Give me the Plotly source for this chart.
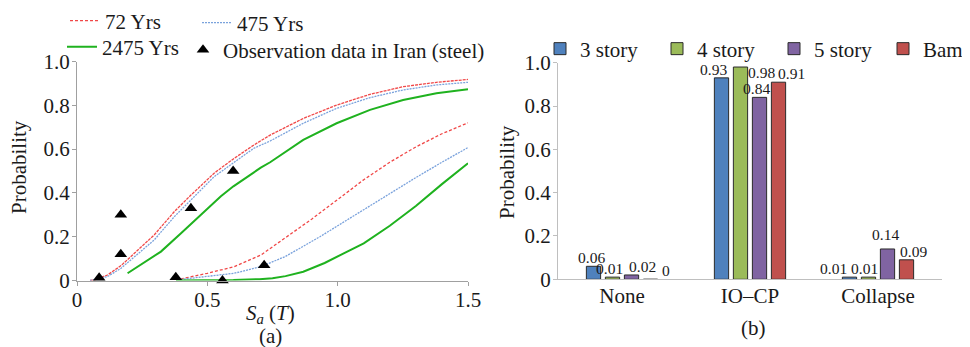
import plotly.graph_objects as go

# ---------------- data: panel (a) fragility curves ----------------
up72_x = [0.05, 0.066, 0.117, 0.169, 0.22, 0.296, 0.373, 0.437, 0.526, 0.603, 0.679, 0.741, 0.868, 0.996, 1.124, 1.251, 1.379, 1.5]
up72_y = [0.0, 0.002, 0.025, 0.068, 0.124, 0.208, 0.314, 0.39, 0.49, 0.558, 0.619, 0.664, 0.74, 0.801, 0.85, 0.885, 0.905, 0.918]

up475_x = [0.05, 0.117, 0.169, 0.22, 0.296, 0.373, 0.437, 0.526, 0.603, 0.679, 0.741, 0.868, 0.996, 1.124, 1.251, 1.379, 1.5]
up475_y = [0.0, 0.018, 0.056, 0.109, 0.185, 0.291, 0.368, 0.474, 0.54, 0.604, 0.637, 0.718, 0.786, 0.835, 0.87, 0.893, 0.905]

up2475_x = [0.194, 0.245, 0.322, 0.398, 0.475, 0.552, 0.6, 0.705, 0.741, 0.868, 0.996, 1.124, 1.251, 1.379, 1.5]
up2475_y = [0.033, 0.071, 0.132, 0.215, 0.299, 0.385, 0.43, 0.515, 0.54, 0.642, 0.718, 0.779, 0.824, 0.855, 0.873]

lo72_x = [0.398, 0.5, 0.603, 0.705, 0.805, 0.9, 1.0, 1.1, 1.2, 1.3, 1.4, 1.5]
lo72_y = [0.007, 0.033, 0.063, 0.116, 0.2, 0.28, 0.37, 0.46, 0.54, 0.61, 0.67, 0.72]

lo475_x = [0.398, 0.5, 0.603, 0.705, 0.8, 0.932, 1.0, 1.1, 1.2, 1.3, 1.4, 1.5]
lo475_y = [0.005, 0.018, 0.033, 0.063, 0.11, 0.2, 0.25, 0.325, 0.4, 0.47, 0.54, 0.607]

lo2475_x = [0.38, 0.5, 0.6, 0.7, 0.75, 0.8, 0.868, 0.95, 1.0, 1.1, 1.2, 1.3, 1.4, 1.5]
lo2475_y = [0.0, 0.0, 0.002, 0.006, 0.01, 0.02, 0.04, 0.08, 0.11, 0.17, 0.25, 0.34, 0.44, 0.535]

obs_x = [0.085, 0.168, 0.168, 0.379, 0.437, 0.558, 0.599, 0.718]
obs_y = [0.013, 0.30, 0.12, 0.015, 0.33, 0.0, 0.50, 0.07]

# ---------------- data: panel (b) bars ----------------
categories = ["None", "IO–CP", "Collapse"]
story3 = [0.06, 0.93, 0.01]
story4 = [0.01, 0.98, 0.01]
story5 = [0.02, 0.84, 0.14]
bam = [0, 0.91, 0.09]

y_ticks = [0, 0.2, 0.4, 0.6, 0.8, 1.0]
y_ticktext = ["0", "0.2", "0.4", "0.6", "0.8", "1.0"]
grid_vals = [0.2, 0.4, 0.6, 0.8]
x_ticks = [0, 0.5, 1.0, 1.5]
x_ticktext = ["0", "0.5", "1.0", "1.5"]

# ---------------- styles ----------------
FONT = "Liberation Serif"
TXT = "#1a1a1a"
RED = "#f04848"
BLUE = "#7aa2dc"
GREEN = "#1fb21f"
BAR_COLORS = ["#4f81bd", "#9bbb59", "#8064a2", "#c0504d"]
# label nudges (px) that mimic the spreadsheet's label placement
label_dx = [[-2, -8.5, -16.5], [-3, 21, -4.5], [10.5, -3.5, -2.5], [15, 13, 6.5]]
label_dy = [[0, 0, 0], [0, -14, 0], [0, 0, 6], [0, 0, 0]]

W, H = 962, 339          # page body has an 8 px margin
def fx(px): return (px - 8) / W
def fy(py): return 1 - (py - 8) / H

fig = go.Figure()

def curve(x, y, name, color, dash, width, legend, show):
    fig.add_trace(go.Scatter(x=x, y=y, mode="lines", name=name,
                             line=dict(color=color, dash=dash, width=width),
                             legend=legend, showlegend=show, legendgroup=name,
                             xaxis="x", yaxis="y", cliponaxis=False))

curve(lo72_x, lo72_y, "72 Yrs", RED, "3px,2px", 1.3, "legend", True)
curve(lo475_x, lo475_y, "475 Yrs", BLUE, "2px,1px", 1.3, "legend2", True)
curve(up72_x, up72_y, "72 Yrs", RED, "3px,1px", 1.3, "legend", False)
curve(up475_x, up475_y, "475 Yrs", BLUE, "2px,1px", 1.3, "legend2", False)
curve(up2475_x, up2475_y, "2475 Yrs", GREEN, "solid", 2.0, "legend3", True)
curve(lo2475_x, lo2475_y, "2475 Yrs", GREEN, "solid", 2.0, "legend3", False)

fig.add_trace(go.Scatter(x=obs_x, y=obs_y, mode="markers",
                         name="Observation data in Iran (steel)",
                         marker=dict(symbol="triangle-up", size=11, color="black"),
                         legend="legend4", xaxis="x", yaxis="y", cliponaxis=False))

bar_names = ["3 story", "4 story", "5 story", "Bam"]
bar_values = [story3, story4, story5, bam]
annotations = []
for i, (name, vals) in enumerate(zip(bar_names, bar_values)):
    fig.add_trace(go.Bar(x=categories, y=vals, name=name,
                         marker=dict(color=BAR_COLORS[i], line=dict(color="#2b2b2b", width=1)),
                         legend=f"legend{5 + i}", xaxis="x2", yaxis="y2"))
    for j, (cat, v) in enumerate(zip(categories, vals)):
        annotations.append(dict(
            x=cat, y=v, xref="x2", yref="y2", text=f"{v:g}", showarrow=False,
            xanchor="center", yanchor="bottom",
            xshift=(i - 1.5) * 19 + label_dx[i][j], yshift=-2 + label_dy[i][j],
            font=dict(family=FONT, size=15.5, color=TXT)))

tickfont = dict(family=FONT, size=21, color=TXT)
titlefont = dict(family=FONT, size=21, color=TXT)

annotations += [
    dict(text="<i>S</i><sub><i>a</i></sub> (<i>T</i>)", x=fx(270), y=fy(314), xref="paper", yref="paper",
         xanchor="center", yanchor="middle", showarrow=False, font=titlefont),
    dict(text="(a)", x=fx(270), y=fy(336), xref="paper", yref="paper",
         xanchor="center", yanchor="middle", showarrow=False, font=titlefont),
    dict(text="(b)", x=fx(753), y=fy(328), xref="paper", yref="paper",
         xanchor="center", yanchor="middle", showarrow=False, font=titlefont),
    dict(text="Probability", x=fx(19), y=fy(167), xref="paper", yref="paper", textangle=-90,
         xanchor="center", yanchor="middle", showarrow=False, font=titlefont),
    dict(text="Probability", x=fx(507), y=fy(172), xref="paper", yref="paper", textangle=-90,
         xanchor="center", yanchor="middle", showarrow=False, font=titlefont),
]

def leg(text_x, text_y):
    return dict(orientation="h", x=fx(text_x - 41), y=fy(text_y), xanchor="left", yanchor="middle",
                font=dict(family=FONT, size=21, color=TXT), bgcolor="rgba(0,0,0,0)",
                itemwidth=30, borderwidth=0)

fig.update_layout(
    template="none",
    width=W, height=H,
    margin=dict(l=0, r=0, t=0, b=0, autoexpand=False),
    paper_bgcolor="white", plot_bgcolor="white",
    font=dict(family=FONT, color=TXT, size=21),
    barmode="group", bargap=0.406, bargroupgap=0.25,
    xaxis=dict(domain=[fx(77), fx(468)], range=[0, 1.5], tickvals=x_ticks, ticktext=x_ticktext,
               showline=True, linecolor="#a0a0a0", linewidth=1.3, ticks="outside", ticklen=4,
               tickcolor="#a0a0a0", showgrid=False, zeroline=False, tickfont=tickfont, automargin=False,
               ticklabelstandoff=-4),
    yaxis=dict(domain=[fy(280.5), fy(61.5)], range=[0, 1], tickvals=y_ticks, ticktext=y_ticktext,
               showline=True, linecolor="#a0a0a0", linewidth=1.3, ticks="outside", ticklen=4,
               tickcolor="#a0a0a0", showgrid=False, zeroline=False, tickfont=tickfont, automargin=False,
               ticklabelstandoff=-2),
    yaxis3=dict(domain=[fy(280.5), fy(61.5)], range=[0, 1], overlaying="y", anchor="x",
                tickvals=grid_vals, showticklabels=False, showgrid=True, automargin=False,
                gridcolor="#b3b3b3", gridwidth=1.3, zeroline=False, showline=False, ticks=""),
    xaxis2=dict(domain=[fx(558), fx(942)], range=[-0.5, 2.5], type="category",
                showline=True, linecolor="#bfbfbf", linewidth=1, ticks="", tickfont=tickfont,
                showgrid=False, zeroline=False, anchor="y2", automargin=False,
                ticklabelstandoff=-3),
    yaxis2=dict(domain=[fy(279.3), fy(62.7)], range=[0, 1], tickvals=y_ticks, ticktext=y_ticktext,
                showline=True, linecolor="#bfbfbf", ticks="outside", ticklen=4, tickcolor="#bfbfbf",
                showgrid=False, zeroline=False, tickfont=tickfont, anchor="x2", automargin=False,
                ticklabelstandoff=-2),
    yaxis4=dict(domain=[fy(279.3), fy(62.7)], range=[0, 1], overlaying="y2", anchor="x2",
                tickvals=grid_vals, showticklabels=False, showgrid=True, automargin=False,
                gridcolor="#d9d9d9", gridwidth=1, zeroline=False, showline=False, ticks=""),
    legend=leg(106, 21),
    legend2=leg(238, 23),
    legend3=leg(103, 47),
    legend4=leg(224, 50),
    legend5=leg(581, 49),
    legend6=leg(698, 49),
    legend7=leg(815, 49),
    legend8=leg(924, 49),
    annotations=annotations,
)

fig.write_html("out.html")
